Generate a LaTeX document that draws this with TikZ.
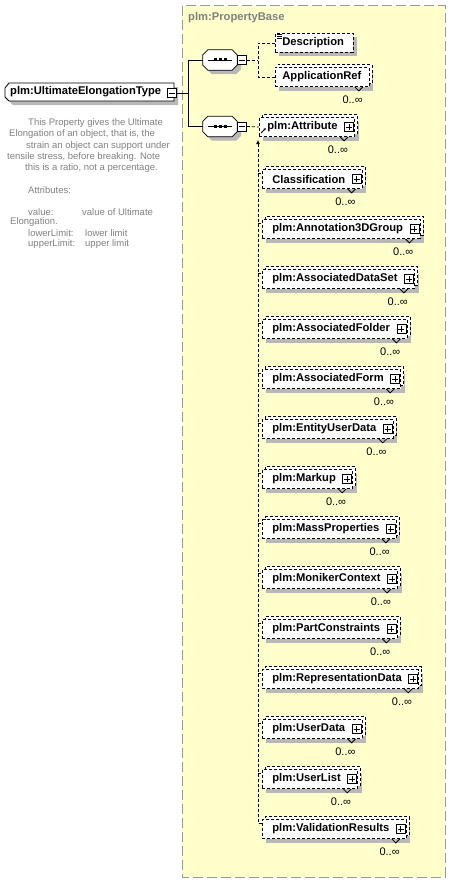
\documentclass[tikz,border=0pt]{standalone}
\usepackage{fontspec}
\setmainfont{Liberation Sans}
\usetikzlibrary{shadows,calc,arrows.meta}
\definecolor{frameyellow}{HTML}{FFFFCC}
\definecolor{framegray}{HTML}{999999}
\definecolor{shadowgray}{HTML}{B8B8B8}
\definecolor{notegray}{HTML}{808080}
\tikzset{
  boldtext/.style={font=\fontsize{11.2}{13}\selectfont\bfseries},
  shadowed/.style={general shadow={fill=shadowgray, draw=none, shadow xshift=4pt, shadow yshift=-4pt}},
  elembox/.style={boldtext, draw, fill=white, dash pattern=on 3pt off 2pt, line width=.8pt,
    minimum height=19pt, inner xsep=0pt, inner ysep=0pt, anchor=west, shadowed},
  multbox/.style={elembox, general shadow={fill=white, draw=black, line width=.8pt,
    dash pattern=on 3pt off 2pt, shadow xshift=3pt, shadow yshift=3pt}},
  plusbox/.style={draw, solid, fill=white, line width=.8pt, minimum size=9pt, inner sep=0pt,
    path picture={\draw[line width=.8pt] ([xshift=1.5pt]path picture bounding box.west) -- ([xshift=-1.5pt]path picture bounding box.east)
      ([yshift=-1.5pt]path picture bounding box.north) -- ([yshift=1.5pt]path picture bounding box.south);}},
  minusbox/.style={draw, solid, fill=white, line width=.8pt, minimum size=9pt, inner sep=0pt,
    path picture={\draw[line width=.8pt] ([xshift=1.5pt]path picture bounding box.west) -- ([xshift=-1.5pt]path picture bounding box.east);}},
  comp/.style={minimum width=34pt, minimum height=20pt, inner sep=0pt},
  compshape/.style={draw, fill=white, line width=.8pt, shadowed},
  conn/.style={line width=.8pt},
  dashline/.style={line width=.8pt, dash pattern=on 3pt off 2pt},
  notch/.style={line width=.8pt, solid},
  card/.style={font=\fontsize{11}{13}\selectfont, inner sep=0pt, anchor=east},
  note/.style={font=\fontsize{9.5}{11}\selectfont, text=notegray, inner sep=0pt, anchor=west},
  framebox/.style={draw=framegray, fill=frameyellow, line width=1pt, dash pattern=on 10pt off 4pt},
  framelabel/.style={boldtext, text=notegray, inner sep=0pt, anchor=west},
}
\newcommand\compdraw[1]{%
  \draw[compshape] ($(#1.north west)+(0,5)$) -- ($(#1.north west)+(5,0)$) -- ($(#1.north east)+(-5,0)$)
    -- ($(#1.north east)+(0,5)$) -- ($(#1.south east)+(0,-5)$) -- ($(#1.south east)+(-5,0)$)
    -- ($(#1.south west)+(5,0)$) -- ($(#1.south west)+(0,-5)$) -- cycle;
  \draw[conn] ($(#1.center)+(-12,0)$) -- ($(#1.center)+(12,0)$);
  \foreach \dx in {-5,0,5} \fill ($(#1.center)+(\dx-1.5,-1.5)$) rectangle ++(3,3);
}
\newcommand\cardof[1]{%
  \draw[notch] ($(#1.south east)+(-15,0)$) -- ++(4,4) -- ++(4,-4);
  \node[card] (#1c) at ($(#1.east)+(-7,23)$) {0..∞};
}
\newcommand\elemrow[3]{%
  \node[multbox] (#1) at (262,#2+1) {\hspace*{10pt}#3\hspace*{17pt}};
  \node[plusbox] (#1p) at ($(#1.east)+(-6,0)$) {};
  \cardof{#1}
}
\begin{document}
\begin{tikzpicture}[x=1pt,y=-1pt]
\useasboundingbox (0,0) rectangle (451,883);
% frame
\draw[framebox] (182,6) rectangle (445,877);
\node[framelabel] (pbase) at (188,18) {plm:PropertyBase};
% root
\draw[line width=.8pt, fill=white, shadowed] (5,88) -- (9,83) -- (174,83) -- (174,101) -- (9,101) -- (5,97) -- cycle;
\node[boldtext, anchor=west, inner sep=0pt] (root) at (10,92) {plm:UltimateElongationType};
\node[minusbox] (rootm) at (172,93) {};
% annotation
\node[note] (n1) at (28,123) {This Property gives the Ultimate};
\node[note] (n2) at (9,134) {Elongation of an object, that is, the};
\node[note] (n3) at (26,146) {strain an object can support under};
\node[note] (n4) at (7,157) {tensile stress, before breaking. Note};
\node[note] (n5) at (25,168) {this is a ratio, not a percentage.};
\node[note] (n6) at (28,190) {Attributes:};
\node[note] (n7) at (28,212) {value:};
\node[note] (n7b) at (82,212) {value of Ultimate};
\node[note] (n8) at (10,222) {Elongation.};
\node[note] (n9) at (28,233) {lowerLimit:};
\node[note] (n9b) at (85,233) {lower limit};
\node[note] (n10) at (28,244) {upperLimit:};
\node[note] (n10b) at (85,244) {upper limit};
% compositors
\coordinate (jt) at (188,60);
\coordinate (jb) at (188,126.5);
\node[comp] (s1) at (220,60) {};
\node[comp] (s2) at (220,126.5) {};
\compdraw{s1}
\compdraw{s2}
\node[minusbox] (s1m) at (242,60) {};
\node[minusbox] (s2m) at (242,126.5) {};
\draw[conn] (rootm.east) -- (rootm.east -| jt);
\draw[conn] (s1.west) -- (jt) -- (jb) -- (s2.west);
% sequence 1 children
\node[elembox] (desc) at (275,43) {\hspace*{7pt}Description\hspace*{9pt}};
\draw[line width=.6pt] ($(desc.north west)+(1.5,1.5)$) -- ++(5,0) ++(-5,2) -- ++(5,0) ++(-5,2) -- ++(5,0);
\node[multbox] (appref) at (275,77) {\hspace*{7pt}ApplicationRef\hspace*{8pt}};
\cardof{appref}
\coordinate (v1) at (258,60);
\draw[dashline] (s1m.east) -- (v1);
\draw[dashline] (desc.west) -- (desc.west -| v1) -- (appref.west -| v1) -- (appref.west);
% sequence 2 children
\node[multbox] (attr) at (259,127) {\hspace*{8pt}plm:Attribute\hspace*{17pt}};
\node[plusbox] (attrp) at ($(attr.east)+(-6,0)$) {};
\cardof{attr}
\draw[dashline] (s2m.east) -- (attr.west);
\draw[line width=1pt, -{Latex[length=2.5pt,width=2.5pt]}] ($(attr.west)+(2,6)$) -- ++(5,-5);
% substitution members
\elemrow{e1}{178}{Classification}
\elemrow{e2}{228}{plm:Annotation3DGroup}
\elemrow{e3}{278}{plm:AssociatedDataSet}
\elemrow{e4}{328}{plm:AssociatedFolder}
\elemrow{e5}{378}{plm:AssociatedForm}
\elemrow{e6}{428}{plm:EntityUserData}
\elemrow{e7}{478}{plm:Markup}
\elemrow{e8}{528}{plm:MassProperties}
\elemrow{e9}{578}{plm:MonikerContext}
\elemrow{e10}{628}{plm:PartConstraints}
\elemrow{e11}{678}{plm:RepresentationData}
\elemrow{e12}{728}{plm:UserData}
\elemrow{e13}{778}{plm:UserList}
\elemrow{e14}{828}{plm:ValidationResults}
\coordinate (vtop) at (258,140);
\coordinate (vbot) at (258,823);
\draw[dashline, {Latex[length=4pt,width=4pt]}-] (vtop) -- (vbot) -- (e14.west |- vbot);
\foreach \e in {e1,e2,e3,e4,e5,e6,e7,e8,e9,e10,e11,e12,e13}
  \draw[dashline] ($(\e.west)+(-4,-6)$) -- ($(\e.west)+(0,-6)$);
\end{tikzpicture}
\end{document}
